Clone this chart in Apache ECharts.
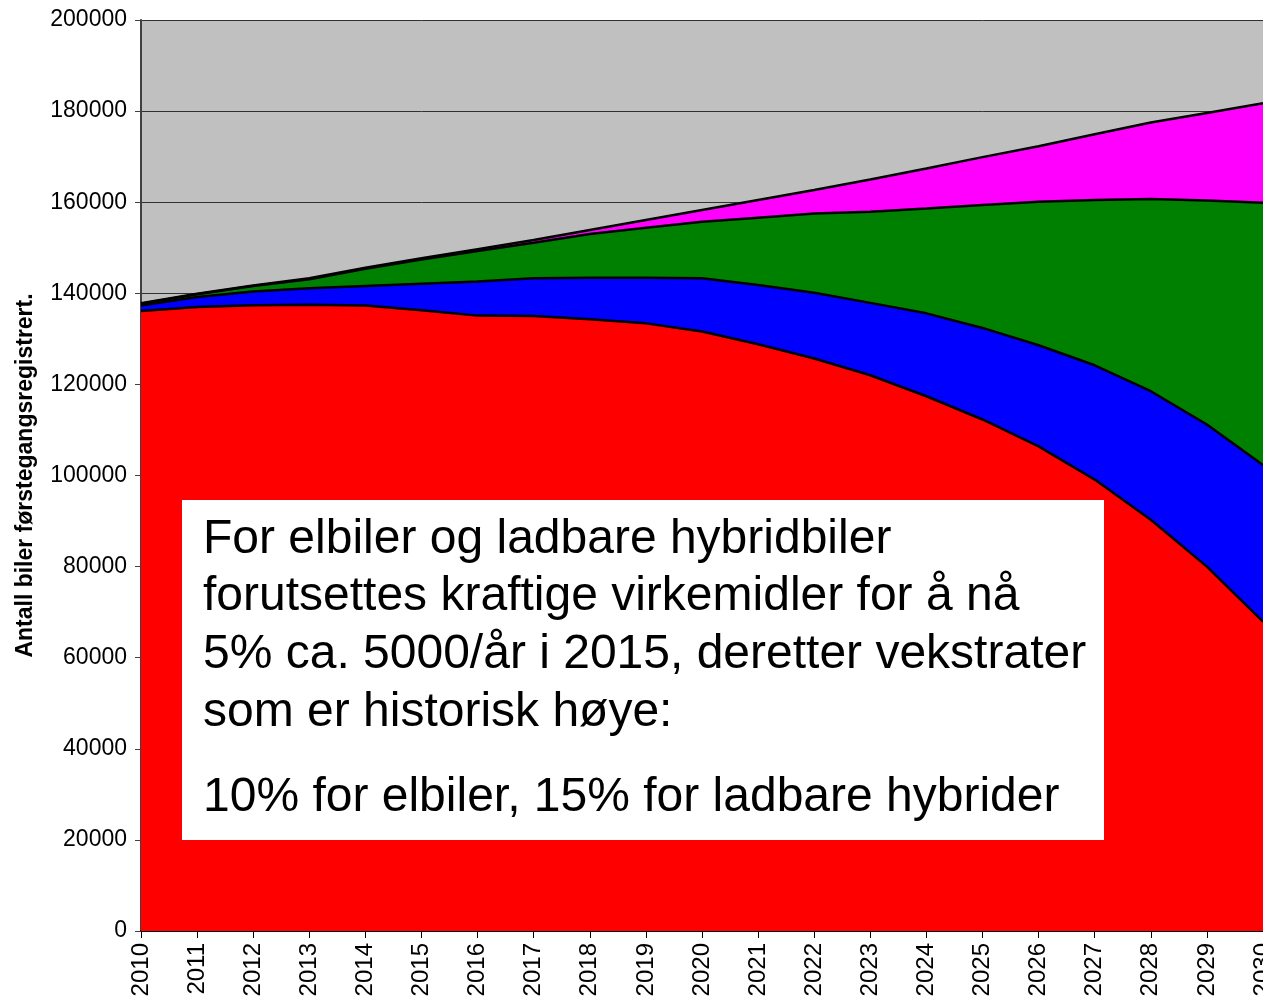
<!DOCTYPE html>
<html style="height:100%">
<head>
    <meta charset="utf-8">
    <title>Førstegangsregistrerte biler</title>
    <script src="https://cdn.jsdelivr.net/npm/echarts@6/dist/echarts.min.js"></script>
</head>
<body style="height:100%;margin:0;background:#fff">
    <div id="main" style="width:1263px;height:1000px;"></div>
    <script type="text/javascript">
        // år
        var years = ['2010', '2011', '2012', '2013', '2014', '2015', '2016', '2017', '2018', '2019', '2020',
            '2021', '2022', '2023', '2024', '2025', '2026', '2027', '2028', '2029', '2030'];

        // stablede lag (antall biler per år)
        var konvensjonelle = [136100, 137000, 137400, 137500, 137300, 136300, 135100, 135000, 134300, 133400, 131600,
            128800, 125700, 122000, 117400, 112300, 106400, 99100, 90300, 80000, 67900];
        var hybrider = [1200, 2200, 3000, 3600, 4300, 5800, 7500, 8300, 9100, 10000, 11700,
            13000, 14400, 15900, 18200, 20100, 22200, 25100, 28200, 31200, 34400];
        var ladbareHybrider = [400, 600, 1200, 2000, 3800, 5300, 6700, 7800, 9600, 11000, 12400,
            14800, 17400, 20000, 23000, 27000, 31500, 36300, 42200, 49200, 57600];
        var elbiler = [100, 100, 100, 200, 200, 300, 400, 600, 900, 1700, 2600,
            3900, 5200, 7100, 8800, 10500, 12200, 14400, 16800, 19200, 21800];

        var yTicks = { min: 0, max: 200000, interval: 20000 };

        var boxLines = [
            'For elbiler og ladbare hybridbiler',
            'forutsettes kraftige virkemidler for å nå',
            '5% ca. 5000/år i 2015, deretter vekstrater',
            'som er historisk høye:',
            '10% for elbiler, 15% for ladbare hybrider'
        ];
        var boxBaselines = [557, 614, 672, 730, 815];

        var myChart = echarts.init(document.getElementById('main'));

        function lag(name, data, color) {
            return {
                name: name,
                type: 'line',
                stack: 'total',
                data: data,
                symbol: 'none',
                smooth: false,
                lineStyle: { color: '#000', width: 2.5 },
                areaStyle: { color: color, opacity: 1 },
                itemStyle: { color: color }
            };
        }

        var graphics = [{
            type: 'rect',
            shape: { x: 182, y: 500, width: 922, height: 340 },
            style: { fill: '#ffffff' },
            z: 100
        }];
        for (var i = 0; i < boxLines.length; i++) {
            graphics.push({
                type: 'text',
                x: 203,
                y: boxBaselines[i] - 17,
                z: 101,
                style: {
                    text: boxLines[i],
                    font: '48px "Liberation Sans", Arial, sans-serif',
                    fill: '#000',
                    verticalAlign: 'middle',
                    align: 'left'
                }
            });
        }

        var option = {
            animation: false,
            backgroundColor: '#ffffff',
            textStyle: { fontFamily: '"Liberation Sans", Arial, sans-serif' },
            grid: {
                show: true,
                left: 141,
                right: 0,
                top: 20,
                bottom: 69,
                outerBoundsMode: 'none',
                containLabel: false,
                backgroundColor: '#c0c0c0',
                borderWidth: 0
            },
            xAxis: {
                type: 'category',
                boundaryGap: false,
                data: years,
                axisLine: { lineStyle: { color: '#000', width: 2 } },
                axisTick: { show: true, length: 7, lineStyle: { color: '#000' } },
                axisLabel: {
                    rotate: 90,
                    interval: 0,
                    margin: 12,
                    color: '#000',
                    fontSize: 24,
                    hideOverlap: false
                },
                splitLine: { show: false }
            },
            yAxis: {
                type: 'value',
                min: yTicks.min,
                max: yTicks.max,
                interval: yTicks.interval,
                name: 'Antall biler førstegangsregistrert.',
                nameLocation: 'middle',
                nameGap: 104,
                nameTextStyle: { color: '#000', fontSize: 23, fontWeight: 'bold' },
                axisLine: { show: true, lineStyle: { color: '#404040', width: 2 } },
                axisTick: { show: true, length: 6, lineStyle: { color: '#404040' } },
                axisLabel: {
                    color: '#000',
                    fontSize: 23,
                    margin: 14,
                    formatter: function (v) { return String(v); }
                },
                splitLine: { show: true, lineStyle: { color: '#303030', width: 1 } }
            },
            series: [
                lag('Bensin/diesel', konvensjonelle, '#ff0000'),
                lag('Hybrider', hybrider, '#0000ff'),
                lag('Ladbare hybrider', ladbareHybrider, '#008000'),
                lag('Elbiler', elbiler, '#ff00ff')
            ],
            graphic: graphics
        };

        myChart.setOption(option);
    </script>
</body>
</html>
